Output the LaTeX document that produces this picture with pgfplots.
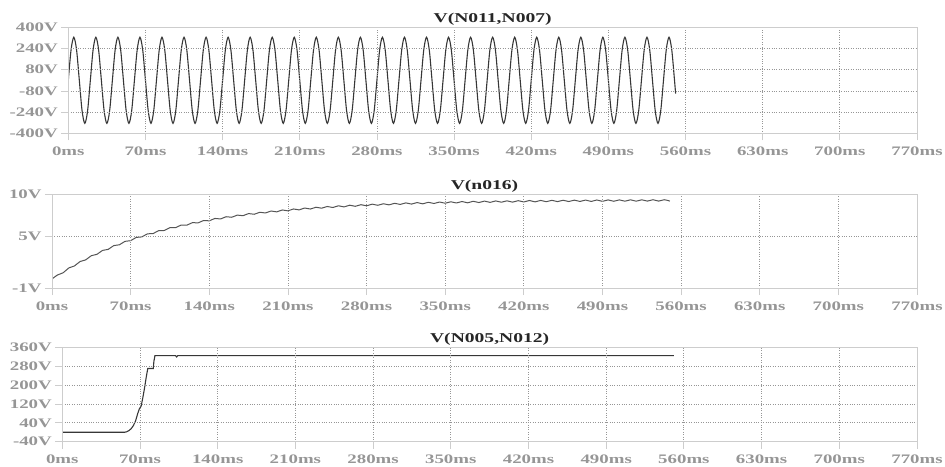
\documentclass[border=0pt]{standalone}
\usepackage{fontspec}
\setmainfont{Liberation Serif}[FakeStretch=1.45]
\usepackage{pgfplots}
\pgfplotsset{compat=1.18}
\definecolor{framec}{RGB}{205,205,205}
\definecolor{gridc}{RGB}{150,150,150}
\definecolor{labc}{RGB}{150,150,150}
\definecolor{tracec}{RGB}{55,55,55}
\pgfplotsset{spice/.style={
  scale only axis, xmin=0, xmax=770, xtick={0,70,...,770},
  xticklabels={0ms,70ms,140ms,210ms,280ms,350ms,420ms,490ms,560ms,630ms,700ms,770ms},
  axis line style={framec, line width=0.8pt},
  tick style={framec, line width=0.8pt}, major tick length=7pt, tick align=outside,
  xtick pos=left, ytick pos=left,
  grid=major, major grid style={gridc, dotted, line width=0.8pt},
  axis on top,
  ticklabel style={font=\bfseries\fontsize{13}{15}\selectfont, text=labc},
  xticklabel style={yshift=-3pt},
  title style={font=\bfseries\fontsize{13.5}{15}\selectfont, text=black!85, anchor=base, at={(0.5,1)}, yshift=-1pt},
}}
\begin{document}
\begin{tikzpicture}
\useasboundingbox (0,0) rectangle (945pt,-466pt);
% ---------------- top ----------------
\begin{axis}[spice, at={(68.3pt,-133.3pt)}, anchor=south west, width=848.7pt, height=106pt,
  ymin=-400, ymax=400, ytick={-400,-240,-80,80,240,400},
  yticklabels={-400V,-240V,-80V,80V,240V,400V}, title={V(N011,N007)}]
\addplot[smooth, tracec, line width=1.1pt] coordinates {
(0,0)(2.5,230)(5,325)(7.5,230)(10,0)(12.5,-230)(15,-325)(17.5,-230)
(20,0)(22.5,230)(25,325)(27.5,230)(30,0)(32.5,-230)(35,-325)(37.5,-230)
(40,0)(42.5,230)(45,325)(47.5,230)(50,0)(52.5,-230)(55,-325)(57.5,-230)
(60,0)(62.5,230)(65,325)(67.5,230)(70,0)(72.5,-230)(75,-325)(77.5,-230)
(80,0)(82.5,230)(85,325)(87.5,230)(90,0)(92.5,-230)(95,-325)(97.5,-230)
(100,0)(102.5,230)(105,325)(107.5,230)(110,0)(112.5,-230)(115,-325)(117.5,-230)
(120,0)(122.5,230)(125,325)(127.5,230)(130,0)(132.5,-230)(135,-325)(137.5,-230)
(140,0)(142.5,230)(145,325)(147.5,230)(150,0)(152.5,-230)(155,-325)(157.5,-230)
(160,0)(162.5,230)(165,325)(167.5,230)(170,0)(172.5,-230)(175,-325)(177.5,-230)
(180,0)(182.5,230)(185,325)(187.5,230)(190,0)(192.5,-230)(195,-325)(197.5,-230)
(200,0)(202.5,230)(205,325)(207.5,230)(210,0)(212.5,-230)(215,-325)(217.5,-230)
(220,0)(222.5,230)(225,325)(227.5,230)(230,0)(232.5,-230)(235,-325)(237.5,-230)
(240,0)(242.5,230)(245,325)(247.5,230)(250,0)(252.5,-230)(255,-325)(257.5,-230)
(260,0)(262.5,230)(265,325)(267.5,230)(270,0)(272.5,-230)(275,-325)(277.5,-230)
(280,0)(282.5,230)(285,325)(287.5,230)(290,0)(292.5,-230)(295,-325)(297.5,-230)
(300,0)(302.5,230)(305,325)(307.5,230)(310,0)(312.5,-230)(315,-325)(317.5,-230)
(320,0)(322.5,230)(325,325)(327.5,230)(330,0)(332.5,-230)(335,-325)(337.5,-230)
(340,0)(342.5,230)(345,325)(347.5,230)(350,0)(352.5,-230)(355,-325)(357.5,-230)
(360,0)(362.5,230)(365,325)(367.5,230)(370,0)(372.5,-230)(375,-325)(377.5,-230)
(380,0)(382.5,230)(385,325)(387.5,230)(390,0)(392.5,-230)(395,-325)(397.5,-230)
(400,0)(402.5,230)(405,325)(407.5,230)(410,0)(412.5,-230)(415,-325)(417.5,-230)
(420,0)(422.5,230)(425,325)(427.5,230)(430,0)(432.5,-230)(435,-325)(437.5,-230)
(440,0)(442.5,230)(445,325)(447.5,230)(450,0)(452.5,-230)(455,-325)(457.5,-230)
(460,0)(462.5,230)(465,325)(467.5,230)(470,0)(472.5,-230)(475,-325)(477.5,-230)
(480,0)(482.5,230)(485,325)(487.5,230)(490,0)(492.5,-230)(495,-325)(497.5,-230)
(500,0)(502.5,230)(505,325)(507.5,230)(510,0)(512.5,-230)(515,-325)(517.5,-230)
(520,0)(522.5,230)(525,325)(527.5,230)(530,0)(532.5,-230)(535,-325)(537.5,-230)
(540,0)(542.5,230)(545,325)(547.5,230)(550,0)(551,-100)
};
\end{axis}
% ---------------- middle ----------------
\begin{axis}[spice, at={(52pt,-288pt)}, anchor=south west, width=865pt, height=94pt,
  ymin=-1, ymax=10, ytick={-1,5,10}, yticklabels={-1V,5V,10V}, title={V(n016)}]
\addplot[smooth, tracec!85, line width=1pt] coordinates {
(0,0.05)(5,0.53)(10,0.79)(15,1.35)(20,1.58)(25,2.10)(30,2.29)(35,2.78)(40,2.94)(45,3.40)
(50,3.52)(55,3.96)(60,4.06)(65,4.46)(70,4.54)(75,4.92)(80,4.98)(85,5.34)(90,5.37)(95,5.72)
(100,5.73)(105,6.06)(110,6.06)(115,6.37)(120,6.35)(125,6.65)(130,6.62)(135,6.90)(140,6.86)(145,7.14)
(150,7.08)(155,7.34)(160,7.28)(165,7.53)(170,7.46)(175,7.71)(180,7.63)(185,7.86)(190,7.78)(195,8.01)
(200,7.91)(205,8.13)(210,8.03)(215,8.25)(220,8.14)(225,8.36)(230,8.24)(235,8.45)(240,8.34)(245,8.54)
(250,8.42)(255,8.62)(260,8.49)(265,8.69)(270,8.56)(275,8.75)(280,8.62)(285,8.81)(290,8.68)(295,8.86)
(300,8.73)(305,8.91)(310,8.78)(315,8.96)(320,8.82)(325,9.00)(330,8.85)(335,9.03)(340,8.89)(345,9.06)
(350,8.92)(355,9.09)(360,8.95)(365,9.12)(370,8.97)(375,9.15)(380,9.00)(385,9.17)(390,9.02)(395,9.19)
(400,9.04)(405,9.20)(410,9.05)(415,9.22)(420,9.07)(425,9.24)(430,9.08)(435,9.25)(440,9.10)(445,9.26)
(450,9.11)(455,9.27)(460,9.12)(465,9.28)(470,9.13)(475,9.29)(480,9.13)(485,9.30)(490,9.14)(495,9.31)
(500,9.15)(505,9.31)(510,9.16)(515,9.32)(520,9.16)(525,9.32)(530,9.17)(535,9.33)(540,9.17)(545,9.33)
(550,9.17)
};
\end{axis}
% ---------------- bottom ----------------
\begin{axis}[spice, at={(62.3pt,-441.7pt)}, anchor=south west, width=854.7pt, height=94.4pt,
  ymin=-40, ymax=360, ytick={-40,40,120,200,280,360},
  yticklabels={-40V,40V,120V,200V,280V,360V}, title={V(N005,N012)}]
\addplot[sharp plot, tracec, line width=1.1pt] coordinates {
(0,0)(56,0)(58,2)(60,7)(62,15)(64,28)(66,48)(68,80)(69.5,100)(71,110)(72.5,145)
(74,185)(75.5,230)(77,270)(82,270)(82.5,300)(83.5,325)(102,325)(103,319)(104,325)(551,325)
};
\end{axis}
\end{tikzpicture}
\end{document}
